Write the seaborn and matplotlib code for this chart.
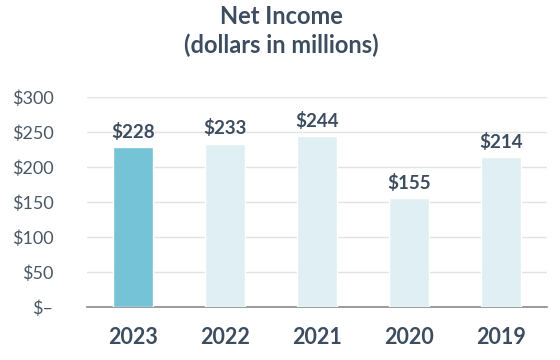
import matplotlib
matplotlib.use("Agg")
import matplotlib.pyplot as plt
import seaborn as sns
import pandas as pd

years = ["2023", "2022", "2021", "2020", "2019"]
income = [228, 233, 244, 155, 214]
bar_colors = ["#74c3d6", "#dfeff4", "#dfeff4", "#dfeff4", "#dfeff4"]
yticks = [0, 50, 100, 150, 200, 250, 300]
ytick_labels = ["$–", "$50", "$100", "$150", "$200", "$250", "$300"]

sns.set_style("white")
plt.rcParams['font.family'] = ['Lato', 'DejaVu Sans']
text_color = "#3d4d60"

df = pd.DataFrame({"year": years, "income": income})

fig = plt.figure(figsize=(5.6, 3.6), dpi=100)
ax = fig.add_axes([0.155, 0.147, 0.822, 0.584])
sns.barplot(data=df, x="year", y="income", hue="year", palette=bar_colors,
            width=0.435, saturation=1, legend=False, ax=ax, zorder=3)

ax.set_ylim(0, 300)
ax.set_yticks(yticks)
ax.set_yticklabels(ytick_labels)
ax.grid(axis="y", color="#e3e3e3", linewidth=1, zorder=0)
ax.set_axisbelow(True)
sns.despine(ax=ax, left=True)
ax.spines["bottom"].set_color("#8a8a8a")
ax.spines["bottom"].set_linewidth(1.2)
ax.set_xlabel("")
ax.set_ylabel("")
ax.tick_params(axis="y", length=0, labelsize=13, labelcolor="#4a5866", pad=24)
ax.tick_params(axis="x", length=0, labelsize=15.5, labelcolor=text_color, pad=14)
for lab in ax.get_xticklabels():
    lab.set_fontweight("bold")

for i, v in enumerate(income):
    ax.text(i, v + 9, f"${v}", ha="center", va="bottom", fontsize=13.5,
            fontweight="bold", color=text_color)

fig.text(0.503, 0.953, "Net Income", ha="center", va="center", fontsize=17,
         fontweight="bold", color=text_color)
fig.text(0.503, 0.875, "(dollars in millions)", ha="center", va="center",
         fontsize=17, fontweight="bold", color=text_color)

fig.savefig("out.png", dpi=100)
